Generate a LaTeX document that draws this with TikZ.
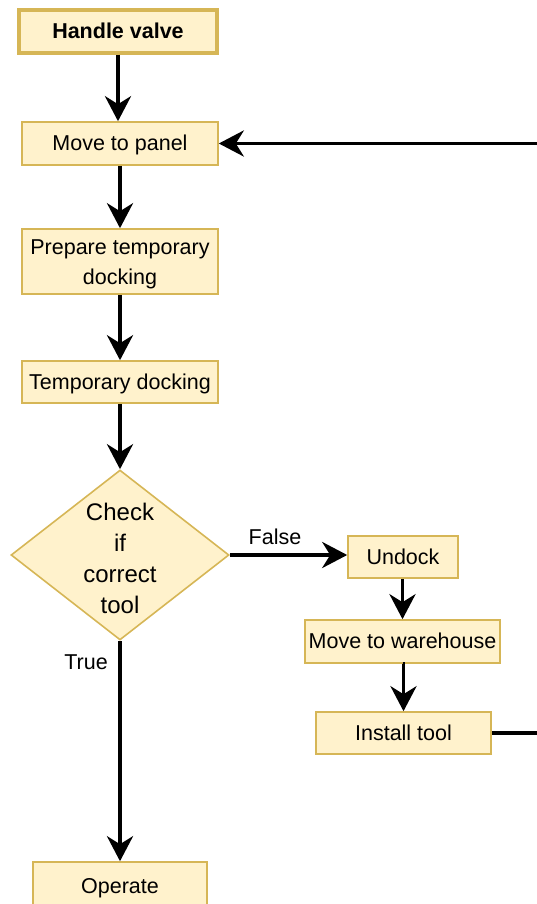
\documentclass[tikz,border=0pt]{standalone}
\usepackage{fontspec}
\setmainfont{Liberation Sans}
\usetikzlibrary{arrows.meta,shapes.geometric}
\definecolor{boxfill}{HTML}{FFF2CC}
\definecolor{boxline}{HTML}{D6B656}
\begin{document}
\begin{tikzpicture}[x=1pt,y=-1pt,
  every node/.style={font=\fontsize{21.5pt}{30pt}\selectfont, inner sep=0pt},
  stepbox/.style={draw=boxline, fill=boxfill, line width=1.6pt, rectangle, align=center,
                  text height=17pt, text depth=3pt},
  decision/.style={draw=boxline, fill=boxfill, line width=1.6pt, diamond},
  flow/.style={line width=3.8pt, -{Stealth[length=25pt,width=26pt,inset=8pt]}}]
  \useasboundingbox (0,0) rectangle (536,904);

  % process steps
  \node[stepbox, line width=3.3pt, minimum width=198pt, minimum height=43pt, font=\fontsize{21.5pt}{30pt}\selectfont\bfseries]
    (hv) at (118,31.5) {Handle valve};
  \node[stepbox, minimum width=196pt, minimum height=43pt] (mtp) at (120,143.5) {Move to panel};
  \node[stepbox, minimum width=196pt, minimum height=65pt, text height=49pt, text depth=3pt]
    (prep) at (120,261.5) {Prepare temporary\\docking};
  \node[stepbox, minimum width=196pt, minimum height=42pt] (temp) at (120,382) {Temporary docking};
  \node[decision, minimum width=218pt, minimum height=170pt] (chk) at (120,555) {};
  \node[align=center, font=\fontsize{24pt}{31pt}\selectfont] (chktext) at (120,558) {Check\\if\\correct\\tool};
  \node[stepbox, minimum width=110pt, minimum height=42pt] (undock) at (403,557) {Undock};
  \node[stepbox, minimum width=195pt, minimum height=43pt] (mtw) at (402.5,641.5) {Move to warehouse};
  \node[stepbox, minimum width=175pt, minimum height=42pt] (inst) at (403.5,733) {Install tool};
  \node[stepbox, minimum width=174pt, minimum height=49pt] (op) at (120,886.5) {Operate};

  % branch labels
  \node (lfalse) at (275,537) {False};
  \node (ltrue) at (86,662) {True};

  % connectors
  \draw[flow] (hv.south) -- (hv.south |- mtp.north);
  \draw[flow] (mtp) -- (prep);
  \draw[flow] (prep) -- (temp);
  \draw[flow] (temp) -- (chk.north);
  \draw[flow] (chk.east) -- (undock.west |- chk.east);
  \draw[flow] (undock.south -| mtw.north) -- (mtw.north);
  \draw[flow] (mtw.south) -- (mtw.south -| inst.north) -- (inst.north);
  \draw[flow] (chk.south) -- (op.north);

  % return loop back to the panel
  \coordinate (far) at (560,733);
  \draw[flow] (inst.east) -- (far) |- (mtp.east);
\end{tikzpicture}
\end{document}
